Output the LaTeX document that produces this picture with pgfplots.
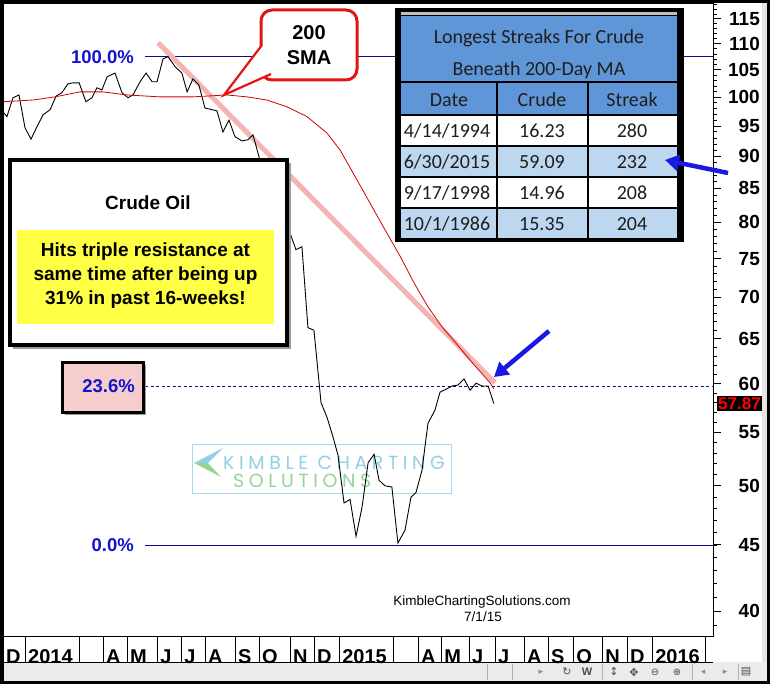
\documentclass[border=0pt]{standalone}
\usepackage{pgfplots}
\pgfplotsset{compat=1.18}
\usepackage{fontspec}
\setmainfont{Liberation Sans}
\newfontfamily\calibri{Carlito}
\newfontfamily\dejavu{DejaVu Sans}
\newfontfamily\wmfont[LetterSpace=24]{Poppins}
\usetikzlibrary{arrows.meta}
\definecolor{fibblue}{RGB}{10,10,150}
\definecolor{lblblue}{RGB}{20,20,205}
\definecolor{smared}{RGB}{210,0,0}
\definecolor{callred}{RGB}{226,20,20}
\definecolor{trendpink}{RGB}{245,180,180}
\definecolor{hdrblue}{RGB}{95,150,215}
\definecolor{rowblue}{RGB}{190,215,240}
\definecolor{noteyellow}{RGB}{255,255,70}
\definecolor{boxpink}{RGB}{245,205,205}
\definecolor{arrowblue}{RGB}{25,25,225}
\definecolor{wmblue}{RGB}{145,208,232}
\definecolor{wmgreen}{RGB}{150,212,150}
\definecolor{tbltext}{RGB}{30,30,30}
\newcommand{\fs}[1]{\fontsize{#1bp}{#1bp}\selectfont}
\begin{document}
\begin{tikzpicture}
\begin{scope}[x=1bp,y=-1bp]
\path[use as bounding box] (0,0) rectangle (770,684);
\fill[white] (0,0) rectangle (770,684);
% watermark
\draw[wmblue!80, line width=0.8bp] (192,444) rectangle (451,493);
\fill[wmblue] (194,463) -- (223,448) -- (208,463) -- cycle;
\fill[wmgreen] (194,463) -- (208,463) -- (221,477) -- cycle;
\node[text=wmblue, font=\wmfont\fs{19}, anchor=west, inner sep=0pt] at (223,463) {KIMBLE CHARTING};
\node[text=wmgreen, font=\wmfont\fs{19}, anchor=west, inner sep=0pt] at (233,481) {SOLUTIONS};
\node[font=\fs{13.5}, inner sep=0pt] at (482,602) {KimbleChartingSolutions.com};
\node[font=\fs{13.5}, inner sep=0pt] at (483,617) {7/1/15};
% bottom gray band
\fill[black!8] (3,662) rectangle (767,681);
\fill[black!10] (762,3) rectangle (767,662);
\draw[line width=0.8bp] (3,662) -- (713,662);
\foreach \xx in {487,512,602,692,738}{\draw[black!30, line width=0.8bp] (\xx,664) -- (\xx,680);}
\begin{scope}[every node/.style={inner sep=0pt}]
\node[text=black!45, font=\dejavu\fs{9}] at (541,672) {▸};
\node[text=black!70, font=\dejavu\fs{11}] at (567,672) {↻};
\node[text=black!70, font=\bfseries\fs{11}] at (587,672) {W};
\node[text=black!70, font=\dejavu\fs{11}] at (614,672) {↕};
\node[text=black!70, font=\dejavu\fs{11}] at (634,672) {✥};
\node[text=black!70, font=\dejavu\fs{10}] at (655,672) {⊖};
\node[text=black!70, font=\dejavu\fs{10}] at (677,672) {⊕};
\node[text=black!45, font=\dejavu\fs{9}] at (703,672) {◂};
\node[text=black!45, font=\dejavu\fs{9}] at (725,672) {▸};
\node[text=black!70, font=\dejavu\fs{11}] at (746,672) {▤};
\end{scope}
\end{scope}

\begin{axis}[
  at={(3bp,-636bp)}, anchor=south west,
  scale only axis, width=710bp, height=633bp,
  xmin=-0.841, xmax=26.31,
  ymode=log, ymin=38.26, ymax=118.3,
  clip=false,
  axis line style={line width=0.8bp},
  xtick={-0.841,0,2.065,2.983,3.90,5.05,5.97,6.88,8.03,8.95,10.13,11.05,12.01,14.07,15.03,15.91,16.98,17.97,19.08,20.0,20.96,22.07,23.02,23.98,26.0},
  xticklabels={D,2014,{},A,M,J,J,A,S,O,N,D,2015,{},A,M,J,J,A,S,O,N,D,2016,{}},
  xtick pos=left,
  major x tick style={draw=none},
  xticklabel style={anchor=west, font=\bfseries\fs{20}, xshift=3bp, yshift=-13bp, inner sep=0pt},
  ytick={40,45,...,115},
  yticklabels={40,45,50,55,60,65,70,75,80,85,90,95,100,105,110,115},
  minor ytick={39,40,...,118},
  ytick pos=right, yticklabel pos=right,
  tick align=outside,
  major tick length=8bp, minor tick length=3.5bp,
  major y tick style={line width=0.9bp,black},
  minor y tick style={line width=0.8bp,black},
  yticklabel style={font=\bfseries\fs{19}, anchor=east, inner sep=2bp, xshift=41bp},
]
% fibonacci levels
\addplot[fibblue, line width=0.8bp] coordinates {(4.59,107.5) (26.31,107.5)};
\addplot[fibblue, line width=0.8bp] coordinates {(4.59,45.0) (26.31,45.0)};
\addplot[fibblue, line width=0.8bp, dash pattern=on 3bp off 2.5bp] coordinates {(4.59,59.75) (26.31,59.75)};
% falling resistance line
\addplot[trendpink, line width=5bp] coordinates {(5.09,110.2) (17.97,60.1)};
% crude oil weekly
\addplot[black, line width=0.9bp] table {
m p
-0.84 97.4
-0.69 96.6
-0.46 99.9
-0.23 100.4
0.00 94.7
0.23 92.8
0.46 94.9
0.69 96.9
0.96 97.8
1.19 100.2
1.41 100.8
1.64 102.4
1.84 102.6
2.07 102.6
2.33 99.2
2.56 99.9
2.75 101.7
2.94 101.3
3.14 103.7
3.44 104.4
3.71 100.8
3.94 99.9
4.13 100.4
4.40 102.8
4.63 104.4
4.86 102.8
5.05 102.8
5.28 107.1
5.47 107.5
5.74 105.6
6.00 104.4
6.20 100.95
6.42 103.3
6.65 102.2
6.88 98.1
7.15 97.8
7.34 97.6
7.57 94.0
7.80 96.0
8.03 93.2
8.30 92.5
8.53 92.7
8.72 93.5
8.95 89.9
9.18 85.8
9.41 82.8
9.64 81.0
9.87 80.5
10.06 79.3
10.36 76.2
10.59 76.6
10.82 66.3
11.05 66.0
11.32 58.0
11.55 56.5
11.78 54.55
11.97 52.8
12.20 48.5
12.43 48.8
12.66 45.7
12.89 48.15
13.12 52.1
13.35 52.9
13.54 50.5
13.77 50.0
14.03 49.9
14.26 45.15
14.53 46.2
14.76 49.0
14.95 49.4
15.18 51.4
15.41 55.9
15.68 57.25
15.87 59.1
16.10 59.4
16.33 59.75
16.56 59.85
16.79 60.5
17.02 59.3
17.25 60.05
17.48 59.75
17.71 59.75
17.93 57.9
};
% 200-day simple moving average
\addplot[smared, line width=0.8bp] table {
m s
-0.84 99.2
0.31 99.5
1.15 100.06
2.10 100.95
2.98 100.95
3.90 100.4
5.16 100.06
6.42 100.06
7.72 100.4
8.49 100.06
9.25 99.5
10.02 98.3
10.78 96.6
11.55 93.8
12.05 91.0
12.54 87.4
13.12 83.3
13.73 79.2
14.34 75.35
14.88 71.8
15.41 68.8
15.95 66.4
16.48 64.5
17.13 62.2
17.78 60.1
17.93 59.45
};
% level labels
\node[anchor=east, text=lblblue, font=\bfseries\fs{18.5}, inner sep=0pt] at (axis cs:4.59,107.5) [xshift=-11bp] {100.0\%};
\node[anchor=east, text=lblblue, font=\bfseries\fs{18.5}, inner sep=0pt] at (axis cs:4.59,45.0) [xshift=-11bp] {0.0\%};
% last price tag
\node[anchor=west, fill=black, text=red, font=\bfseries\fs{17}, inner sep=1.5bp] at (axis cs:26.31,57.87) [xshift=3.5bp] {57.87};
% month separators in the date band
\pgfplotsinvokeforeach{0,2.065,2.983,3.90,5.05,5.97,6.88,8.03,8.95,10.13,11.05,12.01,14.07,15.03,15.91,16.98,17.97,19.08,20.0,20.96,22.07,23.02,23.98,26.0}{
  \draw[line width=0.8bp] (axis cs:#1,38.26) -- ++(0bp,-26bp);
}
\end{axis}

\begin{scope}[x=1bp,y=-1bp]
% 23.6% box
\fill[black!40] (65,365) rectangle (146,415);
\draw[line width=3bp, fill=boxpink] (62,362) rectangle (143,412);
\node[anchor=east, text=lblblue, font=\bfseries\fs{18.5}, inner sep=0pt] at (135,386) {23.6\%};
% Crude oil note box
\fill[black!40] (13,163) rectangle (291,349);
\draw[line width=4bp, fill=white] (10,160) rectangle (287,345);
\node[font=\bfseries\fs{19}, inner sep=0pt] at (148,203) {Crude Oil};
\fill[noteyellow] (17,230) rectangle (274,324);
\node[font=\bfseries\fs{19}, inner sep=0pt] at (145.5,252) {Hits triple resistance at};
\node[font=\bfseries\fs{19}, inner sep=0pt] at (145.5,276) {same time after being up};
\node[font=\bfseries\fs{19}, inner sep=0pt] at (145.5,300) {31\% in past 16-weeks!};
% 200 SMA callout
\draw[callred, line width=3bp, fill=white, rounded corners=11bp] (261,10) rectangle (357,80);
\fill[white] (264,44) -- (224,95) -- (272,74) -- (275,74) -- (275,44) -- cycle;
\draw[callred, line width=2.2bp, line join=miter] (262,45) -- (224,95) -- (271,74);
\node[font=\bfseries\fs{20}, inner sep=0pt] at (309,33) {200};
\node[font=\bfseries\fs{20}, inner sep=0pt] at (309,58) {SMA};
% table
\fill[black] (395,8) rectangle (684,242);
\fill[black!25] (401,12) rectangle (677,15);
\fill[hdrblue] (401,16) rectangle (677,115);
\fill[white] (401,115) rectangle (677,146);
\fill[rowblue] (401,146) rectangle (677,177);
\fill[white] (401,177) rectangle (677,208);
\fill[rowblue] (401,208) rectangle (677,238);
\foreach \yy in {82,115,146,177,208}{\draw[line width=1.5bp] (401,\yy) -- (677,\yy);}
\draw[line width=1.5bp] (497,82) -- (497,238);
\draw[line width=1.5bp] (588,82) -- (588,238);
\begin{scope}[every node/.style={font=\calibri\fs{20}, text=tbltext, inner sep=0pt}]
\node at (539,38) {Longest Streaks For Crude};
\node at (539,70) {Beneath 200-Day MA};
\node at (449,100) {Date};
\node at (542,100) {Crude};
\node at (632,100) {Streak};
\node at (447,131) {4/14/1994};
\node at (542,131) {16.23};
\node at (632,131) {280};
\node at (447,162) {6/30/2015};
\node at (542,162) {59.09};
\node at (632,162) {232};
\node at (447,193) {9/17/1998};
\node at (542,193) {14.96};
\node at (632,193) {208};
\node at (447,224) {10/1/1986};
\node at (542,224) {15.35};
\node at (632,224) {204};
\end{scope}
% arrows
\draw[arrowblue, line width=4.5bp, -{Triangle[length=14bp,width=16bp]}] (728,173) -- (665,160);
\draw[arrowblue, line width=4.5bp, -{Triangle[length=14bp,width=16bp]}] (549,331) -- (494,377);
% outer frame
\draw[line width=3.5bp] (1.75,1.75) rectangle (768.25,682.25);
\end{scope}
\end{tikzpicture}
\end{document}
